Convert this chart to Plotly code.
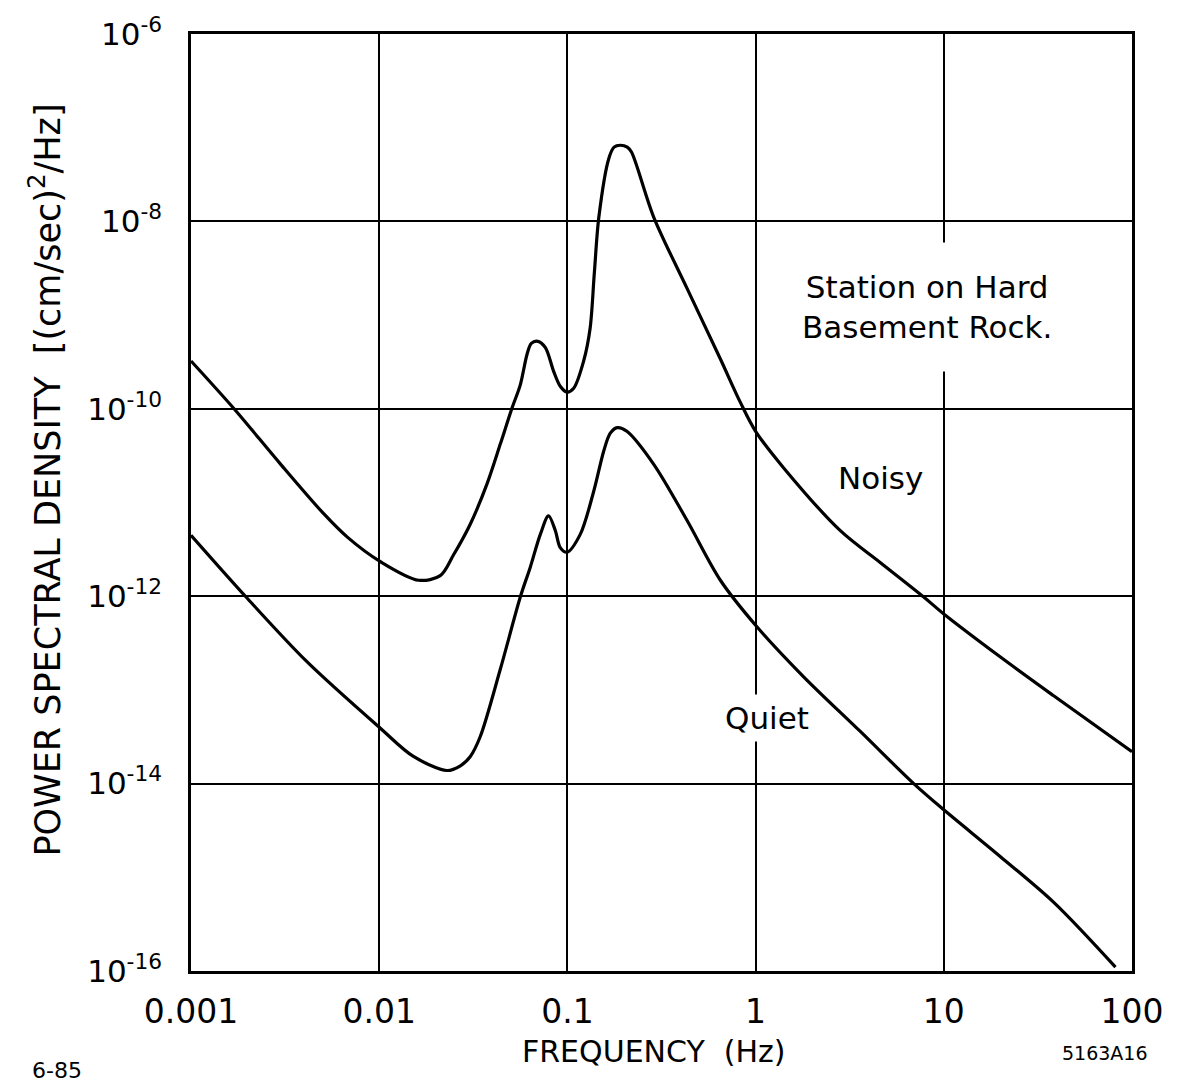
import plotly.graph_objects as go

# ---- data ----
noisy_freq = [0.001, 0.00168, 0.00299, 0.00507, 0.00675, 0.01014, 0.0162, 0.0211, 0.0248,
              0.0305, 0.0374, 0.0440, 0.0508, 0.0562, 0.0610, 0.0643, 0.0697, 0.0764,
              0.0845, 0.0916, 0.0995, 0.108, 0.122, 0.132, 0.139, 0.147, 0.166, 0.177,
              0.191, 0.208, 0.219, 0.287, 0.431, 0.650, 0.830, 1.0, 1.41, 2.82, 4.59,
              7.82, 10, 20, 38.2, 100]
noisy_psd = [3.24e-10, 1.02e-10, 2.57e-11, 7.6e-12, 4.3e-12, 2.34e-12, 1.48e-12, 1.66e-12, 2.75e-12,
             5.9e-12, 1.58e-11, 4.2e-11, 1.02e-10, 1.8e-10, 3.8e-10, 5.0e-10, 5.25e-10, 4.5e-10,
             2.51e-10, 1.74e-10, 1.51e-10, 1.66e-10, 3.24e-10, 7.2e-10, 2.8e-9, 1.12e-8, 4.7e-8, 6.2e-8,
             6.5e-8, 6.2e-8, 5.5e-8, 1.12e-8, 1.95e-9, 3.4e-10, 1.17e-10, 5.75e-11, 2.34e-11, 5.0e-12, 2.29e-12,
             9.8e-13, 6.46e-13, 2.24e-13, 8.7e-14, 2.19e-14]

quiet_freq = [0.001, 0.00199, 0.00413, 0.01014, 0.0152, 0.0229, 0.0270, 0.0305,
              0.0344, 0.0440, 0.0562, 0.0635, 0.0718, 0.0794, 0.0863, 0.0916, 0.0995,
              0.117, 0.138, 0.156, 0.169, 0.184, 0.207, 0.287, 0.431, 0.650, 1.0,
              1.80, 3.6, 6.92, 10, 20, 38.4, 81.7]
quiet_psd = [4.47e-12, 9.5e-13, 2.0e-13, 3.9e-14, 1.95e-14, 1.38e-14, 1.55e-14, 1.95e-14,
             3.16e-14, 1.66e-13, 9.8e-13, 2.04e-12, 4.57e-12, 7.2e-12, 5.0e-12, 3.3e-12, 2.95e-12,
             4.57e-12, 1.32e-11, 3.55e-11, 5.5e-11, 6.3e-11, 5.75e-11, 2.57e-11, 6.5e-12, 1.48e-12, 4.9e-13,
             1.38e-13, 3.6e-14, 1.0e-14, 5.25e-15, 1.66e-15, 5.4e-16, 1.1e-16]

x_tick_vals = [0.001, 0.01, 0.1, 1, 10, 100]
x_tick_text = ["0.001", "0.01", "0.1", "1", "10", "100"]
y_tick_vals = [1e-6, 1e-8, 1e-10, 1e-12, 1e-14, 1e-16]
y_tick_text = ["10<sup>-6</sup>", "10<sup>-8</sup>", "10<sup>-10</sup>",
               "10<sup>-12</sup>", "10<sup>-14</sup>", "10<sup>-16</sup>"]

FONT = "DejaVu Sans"

fig = go.Figure()
for fx, fy in [(noisy_freq, noisy_psd), (quiet_freq, quiet_psd)]:
    fig.add_trace(go.Scatter(x=fx, y=fy, mode="lines",
                             line=dict(color="black", width=3.2, shape="spline", smoothing=0.9),
                             showlegend=False, hoverinfo="skip"))

fig.update_layout(
    width=1182, height=1085,
    margin=dict(l=191, r=50, t=31, b=114),
    paper_bgcolor="white", plot_bgcolor="white",
    font=dict(family=FONT, color="black"),
)
fig.update_xaxes(type="log", range=[-3, 2], tickvals=x_tick_vals, ticktext=x_tick_text,
                 showgrid=True, gridcolor="black", gridwidth=2,
                 showline=True, linecolor="black", linewidth=2.5, mirror=True,
                 ticks="", ticklabelstandoff=10, tickfont=dict(size=33, family=FONT),
                 zeroline=False)
fig.update_yaxes(type="log", range=[-16, -6], tickvals=y_tick_vals, ticktext=y_tick_text,
                 showgrid=True, gridcolor="black", gridwidth=2,
                 showline=True, linecolor="black", linewidth=2.5, mirror=True,
                 ticks="", ticklabelstandoff=20, tickfont=dict(size=31, family=FONT),
                 zeroline=False)

# annotations inside the plot
fig.add_annotation(x=0.912, y=-8.91, xref="x", yref="y",
                   text="Station on Hard<br>Basement Rock.", showarrow=False,
                   font=dict(size=31, family=FONT), bgcolor="white", borderpad=26,
                   align="center", xanchor="center", yanchor="middle")
fig.add_annotation(x=0.663, y=-10.74, xref="x", yref="y", text="Noisy", showarrow=False,
                   font=dict(size=31, family=FONT), xanchor="center", yanchor="middle")
fig.add_annotation(x=0.062, y=-13.30, xref="x", yref="y", text="Quiet", showarrow=False,
                   font=dict(size=31, family=FONT), bgcolor="white", borderpad=5,
                   xanchor="center", yanchor="middle")

# titles and figure codes
fig.add_annotation(x=(45 - 191) / 941, y=(971 - 479) / 940, xref="paper", yref="paper",
                   xanchor="center", yanchor="middle",
                   text="POWER SPECTRAL DENSITY  [(cm/sec)<sup>2</sup>/Hz]",
                   textangle=-90, showarrow=False, font=dict(size=35, family=FONT))
fig.add_annotation(x=(654 - 191) / 941, y=(971 - 1052) / 940, xref="paper", yref="paper",
                   xanchor="center", yanchor="middle",
                   text="FREQUENCY  (Hz)", showarrow=False, font=dict(size=30, family=FONT))
fig.add_annotation(x=(30 - 191) / 941, y=(971 - 1071) / 940, xref="paper", yref="paper",
                   xanchor="left", yanchor="middle",
                   text="6-85", showarrow=False, font=dict(size=22, family=FONT))
fig.add_annotation(x=(1150 - 191) / 941, y=(971 - 1053) / 940, xref="paper", yref="paper",
                   xanchor="right", yanchor="middle",
                   text="5163A16", showarrow=False, font=dict(size=19, family=FONT))

fig.write_html("out.html")
